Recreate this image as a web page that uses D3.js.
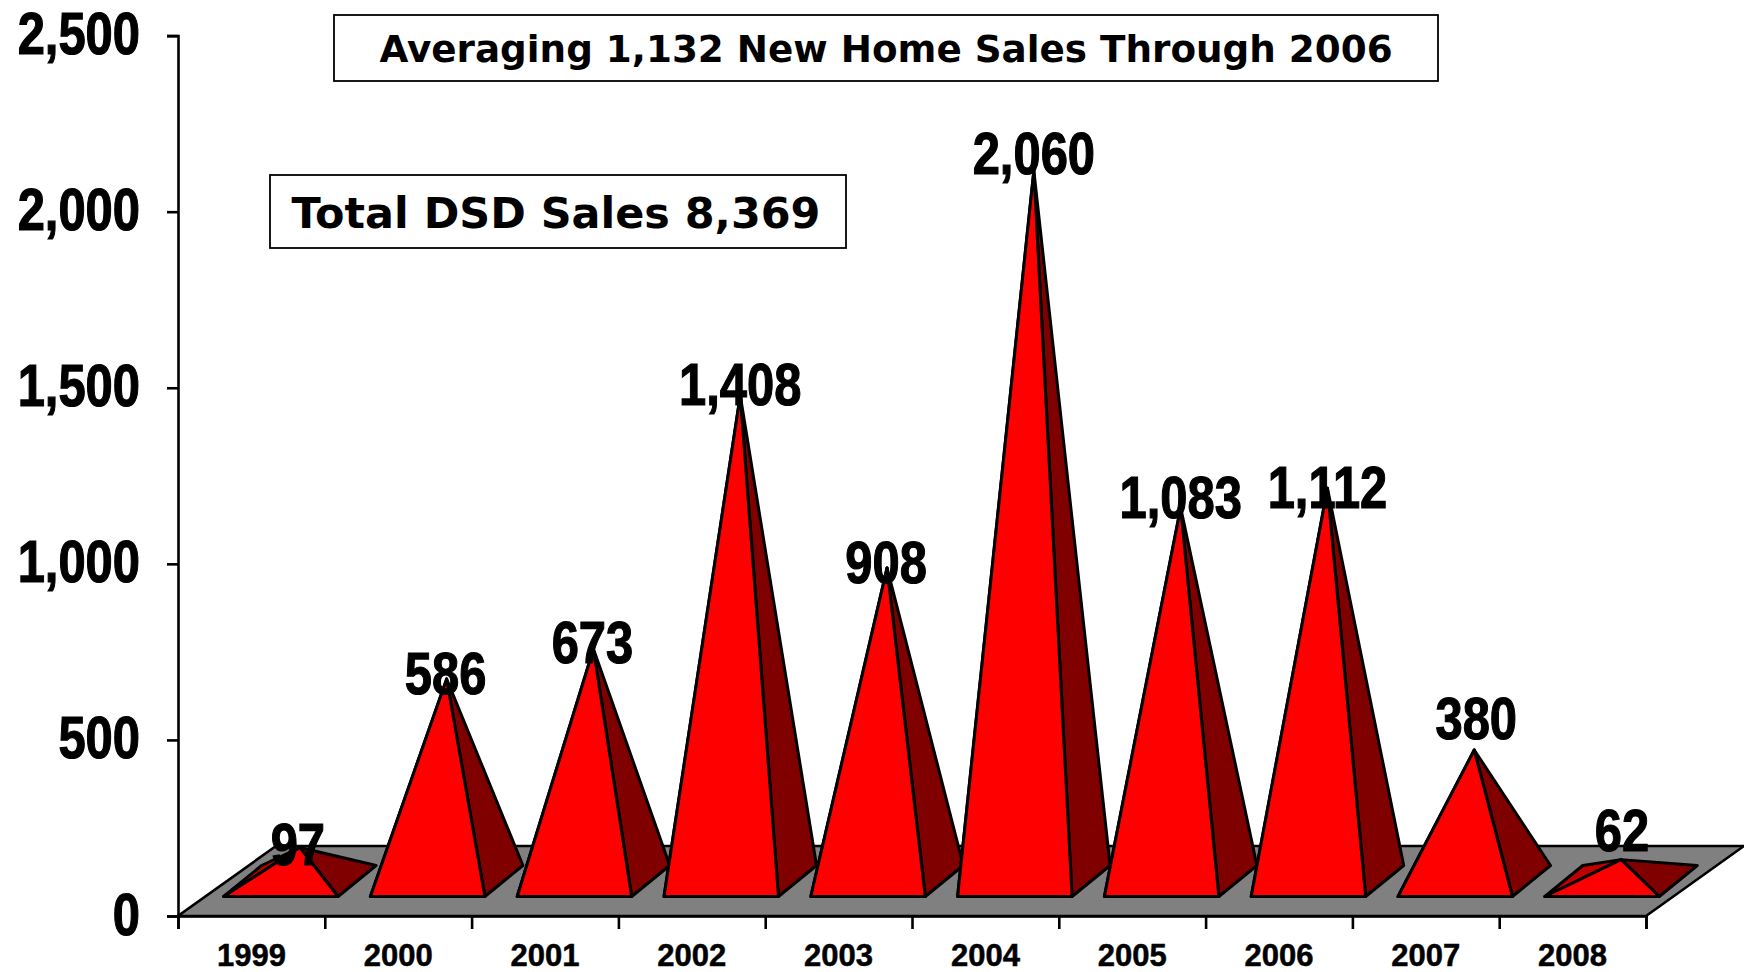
<!DOCTYPE html>
<html>
<head>
<meta charset="utf-8">
<script src="https://d3js.org/d3.v7.min.js"></script>
<style>
  html, body { margin: 0; padding: 0; background: #fff; overflow: hidden; }
  svg { display: block; }
  .num { font-family: "Liberation Sans", sans-serif; font-weight: bold; fill: #000; stroke: #000; }
  .note { font-family: "DejaVu Sans", sans-serif; font-weight: bold; fill: #000; }
</style>
</head>
<body>
<svg></svg>
<script>
const years = ["1999", "2000", "2001", "2002", "2003", "2004", "2005", "2006", "2007", "2008"];
const sales = [97, 586, 673, 1408, 908, 2060, 1083, 1112, 380, 62];
// heights as drawn: the 2006 pyramid stands a bit taller than its label says
const drawnSales = [97, 586, 673, 1408, 908, 2060, 1083, 1139, 380, 62];
const yTicks = [0, 500, 1000, 1500, 2000, 2500];

const width = 1744;
const height = 972;
const left = 178;
const right = 1646;
const bottom = 916;
const top_ = 35.6;

// floor depth, and where a pyramid stands on it
const floorDx = 98;
const floorDy = -70;
const baseInset = 45.6;
const baseWidth = 114.5;
const baseRise = 19.5;
const depthDx = 38;
const depthDy = -31;

// the data labels were moved by hand in the original, so each has its own nudge
const labelDx = [-2, -1, -1, 0, -1, 0, 0, 0, 2, 1];
const labelDy = [17, 15, 14, 9, 15, 3, 10, 20, -11, -9];
const numSqueeze = 0.815;

const svg = d3.select("svg").attr("width", width).attr("height", height);

const xScale = d3.scaleBand().domain(years).range([left, right]);
const xEdges = d3.scaleLinear().domain([0, years.length]).range([left, right]);
const yScale = d3.scaleLinear().domain([0, 2500]).range([bottom, top_]);

const baseY = bottom - baseRise;
const apexFloor = baseY + depthDy / 2;
const apexScale = d3.scaleLinear().domain([0, 2500]).range([apexFloor, apexFloor - 862]);

const line = pts => "M" + pts.map(p => p.join(",")).join("L") + "Z";
const apexX = year => xScale(year) + baseInset + baseWidth / 2 + depthDx / 2;

const drawFloor = () => {
    svg.append("path")
       .attr("d", line([[left, bottom], [right, bottom], [right + floorDx, bottom + floorDy], [left + floorDx, bottom + floorDy]]))
       .attr("fill", "#808080")
       .attr("stroke", "#000")
       .attr("stroke-width", 2.6);
}

const drawPyramids = () => {
    const g = svg.selectAll(".pyramid")
       .data(years)
       .enter()
       .append("g")
       .attr("class", "pyramid")
       .attr("stroke", "#000")
       .attr("stroke-width", 3)
       .attr("stroke-linejoin", "round");

    const corners = (year, i) => {
        const fl = xScale(year) + baseInset;
        const fr = fl + baseWidth;
        return {
            fl: [fl, baseY],
            fr: [fr, baseY],
            bl: [fl + depthDx, baseY + depthDy],
            br: [fr + depthDx, baseY + depthDy],
            apex: [apexX(year), apexScale(drawnSales[i])]
        };
    };

    g.append("path")
       .attr("fill", "#c00000")
       .attr("d", (d, i) => { const c = corners(d, i); return line([c.fl, c.bl, c.apex]); });
    g.append("path")
       .attr("fill", "#800000")
       .attr("d", (d, i) => { const c = corners(d, i); return line([c.fr, c.br, c.apex]); });
    g.append("path")
       .attr("fill", "#ff0000")
       .attr("d", (d, i) => { const c = corners(d, i); return line([c.fl, c.fr, c.apex]); });
}

const drawAxes = () => {
    const yAxis = d3.axisLeft(yScale).tickValues(yTicks).tickSize(11).tickFormat("");
    const xAxis = d3.axisBottom(xEdges).tickValues(d3.range(years.length + 1)).tickSize(13).tickFormat("");

    svg.append("g").attr("id", "y-axis").attr("transform", "translate(" + left + ",0)").call(yAxis);
    svg.append("g").attr("id", "x-axis").attr("transform", "translate(0," + bottom + ")").call(xAxis);
    svg.selectAll("#y-axis path, #y-axis line, #x-axis path, #x-axis line")
       .attr("stroke", "#000")
       .attr("stroke-width", 2.6);

    svg.selectAll(".y-label")
       .data(yTicks)
       .enter()
       .append("text")
       .attr("class", "num y-label")
       .attr("text-anchor", "end")
       .attr("transform", d => "translate(140," + (yScale(d) + 18.5) + ") scale(" + numSqueeze + ",1)")
       .attr("font-size", 60)
       .attr("stroke-width", 1.2)
       .text(d => d3.format(",")(d));

    svg.selectAll(".x-label")
       .data(years)
       .enter()
       .append("text")
       .attr("class", "num x-label")
       .attr("text-anchor", "middle")
       .attr("x", d => xScale(d) + xScale.bandwidth() / 2)
       .attr("y", 965.5)
       .attr("font-size", 31)
       .attr("stroke-width", 0.5)
       .text(d => d);
}

const drawLabels = () => {
    svg.selectAll(".value-label")
       .data(sales)
       .enter()
       .append("text")
       .attr("class", "num value-label")
       .attr("text-anchor", "middle")
       .attr("transform", (d, i) => "translate(" + (apexX(years[i]) + labelDx[i]) + "," + (apexScale(drawnSales[i]) + labelDy[i]) + ") scale(" + numSqueeze + ",1)")
       .attr("font-size", 60)
       .attr("stroke-width", 1.2)
       .text(d => d3.format(",")(d));
}

const drawNote = (x, y, w, h, size, text, textDx, textDy) => {
    svg.append("rect")
       .attr("x", x).attr("y", y).attr("width", w).attr("height", h)
       .attr("fill", "#fff").attr("stroke", "#000").attr("stroke-width", 1.8);
    svg.append("text")
       .attr("class", "note")
       .attr("x", x + w / 2 + textDx)
       .attr("y", y + h / 2 + size * 0.36 + textDy)
       .attr("text-anchor", "middle")
       .attr("font-size", size)
       .text(text);
}

drawFloor();
drawPyramids();
drawAxes();
drawLabels();
drawNote(334, 15, 1104, 66, 37.3, "Averaging 1,132 New Home Sales Through 2006", 0, 1);
drawNote(270, 175, 576, 73, 42.9, "Total DSD Sales 8,369", -2, 1);
</script>
</body>
</html>
